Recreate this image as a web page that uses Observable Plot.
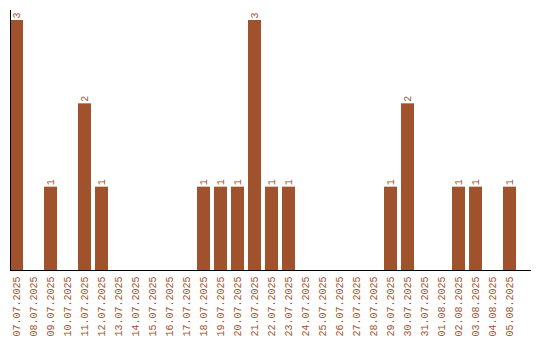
<!DOCTYPE html>
<html>
<head>
<meta charset="utf-8">
<script src="https://cdn.jsdelivr.net/npm/d3@7"></script>
<script src="https://cdn.jsdelivr.net/npm/@observablehq/plot@0.6"></script>
<style>
  html, body { margin: 0; padding: 0; background: #fff; }
</style>
</head>
<body>
<div id="chart"></div>
<script>
const dates = ["07.07.2025","08.07.2025","09.07.2025","10.07.2025","11.07.2025","12.07.2025","13.07.2025","14.07.2025","15.07.2025","16.07.2025","17.07.2025","18.07.2025","19.07.2025","20.07.2025","21.07.2025","22.07.2025","23.07.2025","24.07.2025","25.07.2025","26.07.2025","27.07.2025","28.07.2025","29.07.2025","30.07.2025","31.07.2025","01.08.2025","02.08.2025","03.08.2025","04.08.2025","05.08.2025"];
const counts = [3,0,1,0,2,1,0,0,0,0,0,1,1,1,3,1,1,0,0,0,0,0,1,2,0,0,1,1,0,1];

const data = dates.map((d, i) => ({date: d, count: counts[i]}));
const color = "#a0522d";
const font = "Liberation Mono";

const chart = Plot.plot({
  width: 540,
  height: 340,
  marginTop: 10,
  marginLeft: 10,
  marginRight: 10,
  marginBottom: 70,
  style: {fontFamily: font, fontSize: "10px", color: color, background: "#fff"},
  x: {type: "band", domain: dates, paddingInner: 0.235, paddingOuter: 0.4115, align: 0, round: false, label: null},
  y: {domain: [0, 3.12], axis: null},
  marks: [
    Plot.barY(data, {x: "date", y: "count", fill: color}),
    Plot.text(data.filter(d => d.count > 0), {x: "date", y: "count", text: d => String(d.count), rotate: -90, textAnchor: "start", lineAnchor: "middle", dy: -2, fill: color, fontSize: 10, fontFamily: font}),
    Plot.axisX({tickSize: 0, tickPadding: 6, tickRotate: -90, fill: color, fontSize: 10, fontFamily: font, label: null}),
    Plot.frame({anchor: "bottom", stroke: "black"}),
    Plot.frame({anchor: "left", stroke: "black"})
  ]
});
document.getElementById("chart").appendChild(chart);
</script>
</body>
</html>
